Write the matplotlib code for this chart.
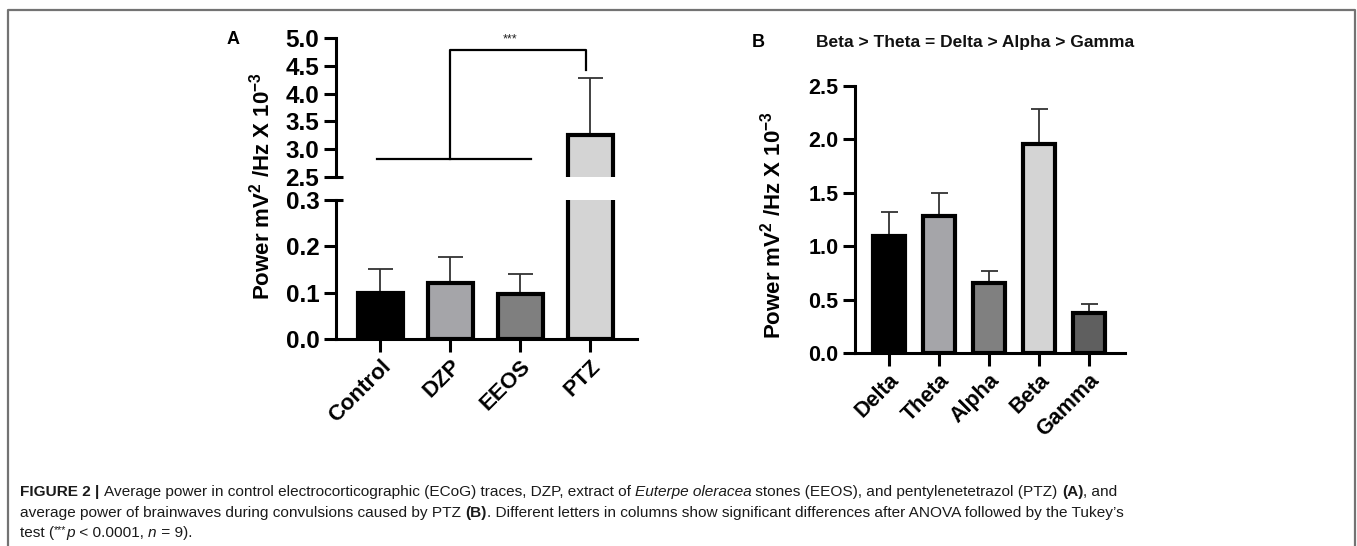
import matplotlib
matplotlib.use("Agg")
import matplotlib.pyplot as plt
from matplotlib.lines import Line2D
from matplotlib import font_manager

# ---- data ----
groups_a = ["Control", "DZP", "EEOS", "PTZ"]
power_a = [0.10, 0.12, 0.097, 3.25]
sem_a = [0.052, 0.058, 0.043, 1.03]
colors_a = ["#000000", "#a5a5a9", "#7f7f7f", "#d4d4d4"]

waves_b = ["Delta", "Theta", "Alpha", "Beta", "Gamma"]
power_b = [1.10, 1.28, 0.66, 1.96, 0.37]
sem_b = [0.22, 0.22, 0.11, 0.32, 0.09]
colors_b = ["#000000", "#a5a5a9", "#808080", "#d4d4d4", "#5f5f5f"]

W, H = 1357, 546
plt.rcParams["font.family"] = ["Liberation Sans", "DejaVu Sans"]
plt.rcParams["mathtext.fontset"] = "custom"
plt.rcParams["mathtext.rm"] = "Liberation Sans:bold"
plt.rcParams["mathtext.it"] = "Liberation Sans:bold:italic"
plt.rcParams["mathtext.bf"] = "Liberation Sans:bold"
plt.rcParams["mathtext.default"] = "rm"

fig = plt.figure(figsize=(W / 100, H / 100), dpi=100)

LW = 2.2
EDGE = 3.0


def px_axes(x0, y0, x1, y1):
    return fig.add_axes([x0 / W, 1 - y1 / H, (x1 - x0) / W, (y1 - y0) / H])


def style(ax, fs, xfs=None):
    for s in ["top", "right"]:
        ax.spines[s].set_visible(False)
    for s in ["left", "bottom"]:
        ax.spines[s].set_linewidth(LW)
    ax.tick_params(length=9, width=LW, pad=3)
    ax.tick_params(axis="y", labelsize=fs)
    ax.tick_params(axis="x", labelsize=xfs or fs)
    for lab in ax.get_yticklabels() + ax.get_xticklabels():
        lab.set_fontweight("bold")


def bars(ax, vals, errs, colors, cap):
    x = range(len(vals))
    ax.vlines(x, vals, [v + e for v, e in zip(vals, errs)], color="#333333", lw=1.3, zorder=1)
    ax.hlines([v + e for v, e in zip(vals, errs)], [i - cap for i in x], [i + cap for i in x],
              color="#333333", lw=1.3, zorder=1)
    ax.bar(x, vals, width=0.64, color=colors, edgecolor="black", linewidth=EDGE, zorder=2)


# ---- panel A (broken axis) ----
ax_lo = px_axes(336, 200, 637, 339)
ax_hi = px_axes(336, 38, 637, 177)
for ax in (ax_lo, ax_hi):
    bars(ax, power_a, sem_a, colors_a, 0.18)
    ax.set_xlim(-0.63, 3.67)

ax_lo.set_ylim(0, 0.3)
ax_lo.set_yticks([0, 0.1, 0.2, 0.3])
ax_lo.set_yticklabels(["0.0", "0.1", "0.2", "0.3"])
ax_lo.set_xticks(range(len(groups_a)))
ax_lo.set_xticklabels(groups_a, rotation=45, ha="right", rotation_mode="anchor")
style(ax_lo, 17.5, 16)

ax_hi.set_ylim(2.5, 5.0)
ax_hi.set_yticks([2.5, 3.0, 3.5, 4.0, 4.5, 5.0])
ax_hi.set_yticklabels(["2.5", "3.0", "3.5", "4.0", "4.5", "5.0"])
ax_hi.set_xticks([])
style(ax_hi, 17.5)
ax_hi.spines["bottom"].set_visible(False)

# break marks
ax_hi.plot([0, 0.022], [2.5, 2.5], transform=ax_hi.get_yaxis_transform(), color="k",
           lw=LW, clip_on=False, solid_capstyle="butt")
ax_lo.plot([0, 0.022], [0.3, 0.3], transform=ax_lo.get_yaxis_transform(), color="k",
           lw=LW, clip_on=False, solid_capstyle="butt")

# significance bracket
ax_hi.plot([-0.05, 2.15], [2.83, 2.83], color="k", lw=1.6, clip_on=False)
ax_hi.plot([1.0, 1.0, 2.94, 2.94], [2.83, 4.78, 4.78, 4.42], color="k", lw=1.6, clip_on=False)
ax_hi.text(1.85, 4.86, "***", ha="center", va="bottom", fontsize=9, color="#222222")

fig.text(262 / W, 1 - 186 / H, r"Power mV$^{2}$ /Hz X 10$^{-3}$", rotation=90,
         ha="center", va="center", fontsize=16, fontweight="bold")
fig.text(233 / W, 1 - 40 / H, "A", ha="center", va="center", fontsize=13, fontweight="bold")

# ---- panel B ----
ax_b = px_axes(855, 86, 1125, 353)
bars(ax_b, power_b, sem_b, colors_b, 0.17)
ax_b.set_xlim(-0.68, 4.72)
ax_b.set_ylim(0, 2.5)
ax_b.set_yticks([0, 0.5, 1.0, 1.5, 2.0, 2.5])
ax_b.set_yticklabels(["0.0", "0.5", "1.0", "1.5", "2.0", "2.5"])
ax_b.set_xticks(range(len(waves_b)))
ax_b.set_xticklabels(waves_b, rotation=45, ha="right", rotation_mode="anchor")
style(ax_b, 15.5)
ax_b.set_ylabel(r"Power mV$^{2}$ /Hz X 10$^{-3}$", fontsize=16, fontweight="bold")
ax_b.yaxis.set_label_coords((786 - 855) / 270, 0.48)

fig.text(975 / W, 1 - 43 / H, "Beta > Theta = Delta > Alpha > Gamma", ha="center",
         va="center", fontsize=12.5, fontweight="bold", color="#111111")
fig.text(758 / W, 1 - 43 / H, "B", ha="center", va="center", fontsize=13, fontweight="bold")

# ---- frame ----
fig.add_artist(Line2D([8 / W, 8 / W, 1355 / W, 1355 / W], [0, 1 - 10 / H, 1 - 10 / H, 0],
                      transform=fig.transFigure, color="#737373", lw=1.6))

# ---- caption ----
names = {f.name for f in font_manager.fontManager.ttflist}
cap_family = "Liberation Sans Narrow" if "Liberation Sans Narrow" in names else "Liberation Sans"
renderer = fig.canvas.get_renderer()


def text_width(s, fs, weight="normal", fstyle="normal"):
    kw = dict(fontsize=fs, fontweight=weight, fontstyle=fstyle, family=cap_family)
    t = fig.text(0, 0, "x" + s + "x", **kw)
    w1 = t.get_window_extent(renderer).width
    t.remove()
    t = fig.text(0, 0, "xx", **kw)
    w2 = t.get_window_extent(renderer).width
    t.remove()
    return w1 - w2


lines = [
    [("FIGURE 2 | ", "b"),
     ("Average power in control electrocorticographic (ECoG) traces, DZP, extract of ", "n"),
     ("Euterpe oleracea", "i"),
     (" stones (EEOS), and pentylenetetrazol (PTZ) ", "n"), ("(A)", "b"), (", and", "n")],
    [("average power of brainwaves during convulsions caused by PTZ ", "n"), ("(B)", "b"),
     (". Different letters in columns show significant differences after ANOVA followed by the Tukey\u2019s", "n")],
    [("test (", "n"), ("***", "s"), ("p", "i"), (" < 0.0001, ", "n"), ("n", "i"), (" = 9).", "n")],
]


def props(kind, fs):
    if kind == "b":
        return fs, "bold", "normal"
    if kind == "i":
        return fs, "normal", "italic"
    if kind == "s":
        return fs * 0.7, "normal", "normal"
    return fs, "normal", "normal"


def line_width(runs, fs):
    return sum(text_width(s, *props(k, fs)) for s, k in runs)


fs0 = 10.0
cap_fs = fs0 * (1125 - 20) / line_width(lines[0], fs0)

baselines = [496, 517, 537]
for runs, yb in zip(lines, baselines):
    x = 20
    for s, k in runs:
        f, wgt, st = props(k, cap_fs)
        dy = 4 if k == "s" else 0
        fig.text(x / W, 1 - (yb - dy) / H, s, fontsize=f, fontweight=wgt, fontstyle=st,
                 family=cap_family, va="baseline", ha="left", color="#1a1a1a")
        x += text_width(s, f, wgt, st)

fig.savefig("out.png", dpi=100)
